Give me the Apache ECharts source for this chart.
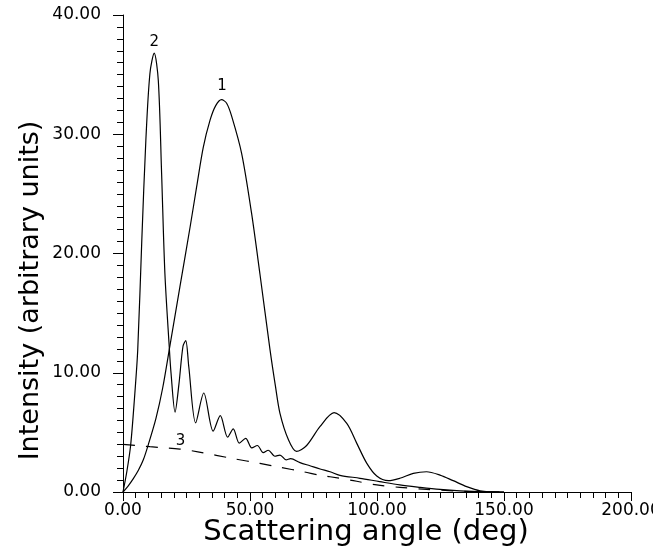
<!DOCTYPE html>
<html>
<head>
<meta charset="utf-8">
<script src="https://cdn.jsdelivr.net/npm/echarts@6/dist/echarts.min.js"></script>
<style>
  html, body { margin: 0; padding: 0; background: #fff; }
  #mychart { width: 653px; height: 550px; }
</style>
</head>
<body>
<div id="mychart"></div>
<script>
// curve 1 : broad peak near 39 deg
var angle1 = [0, 2, 4, 6, 8, 10, 13, 15.6, 18.5, 22.4, 26.4, 29, 31.6, 34.3, 36.5, 38.8, 40.8, 42.8, 46.7, 50.6, 53.9, 57.9, 60, 61.8, 65.1, 68.3, 72.3, 77.6, 83.1, 88.1, 92, 96, 99.9, 104.5, 109, 114.3, 119.5, 124.8, 130, 135.3, 140.6, 148, 150];
var inten1 = [0, 0.5, 1.1, 1.8, 2.7, 4.0, 6.2, 8.7, 12.3, 17.2, 22.2, 25.6, 28.9, 31.2, 32.4, 32.9, 32.6, 31.5, 28.4, 23.4, 18.3, 11.9, 8.9, 6.6, 4.4, 3.4, 3.9, 5.5, 6.65, 5.75, 4.1, 2.4, 1.34, 0.95, 1.15, 1.56, 1.7, 1.42, 0.95, 0.45, 0.1, 0, 0];

// curve 2 : sharp peak near 12 deg, then oscillations
var angle2 = [0, 1.5, 3, 4.5, 5.8, 7.4, 9, 10.6, 12.3, 13.9, 15.2, 16.5, 18.2, 18.9, 20.5, 22, 23.6, 24.7, 25.9, 28.6, 31.8, 35.5, 38.3, 41.2, 43.4, 45.8, 48.3, 50.7, 52.9, 55.2, 57.2, 59.8, 61.8, 64.2, 66, 69.7, 73.6, 77.6, 81.5, 85.4, 93.3, 101, 109, 117, 124.8, 132.7, 140.6, 150];
var inten2 = [0, 1.7, 3.9, 7.8, 11.9, 21.1, 29.5, 35.1, 36.8, 34.5, 26.7, 18.3, 12.2, 10, 6.7, 9, 12.2, 12.7, 10.5, 5.8, 8.3, 5.1, 6.4, 4.6, 5.3, 4.1, 4.5, 3.7, 3.9, 3.3, 3.5, 3.0, 3.1, 2.7, 2.8, 2.46, 2.2, 1.93, 1.7, 1.4, 1.15, 0.87, 0.59, 0.39, 0.22, 0.1, 0.03, 0];

// curve 3 : dashed background
var angle3 = [0, 10.6, 22.4, 30, 43.4, 53.9, 61.8, 71, 77.6, 81.5, 90.7, 99.9, 109, 119.5, 130, 140, 150];
var inten3 = [4.0, 3.8, 3.6, 3.35, 2.8, 2.4, 2.07, 1.7, 1.4, 1.28, 0.95, 0.59, 0.39, 0.22, 0.1, 0.03, 0];

var curveLabels = [
    {name: '1', coord: [39, 32.9]},
    {name: '2', coord: [12.3, 36.6]},
    {name: '3', coord: [22.6, 4.3]}
];

function pairs(xs, ys) {
    return xs.map(function (x, i) { return [x, ys[i]]; });
}

var dom = document.getElementById("mychart");
var myChart = echarts.init(dom);

var fontFam = 'DejaVu Sans';
var lineCol = '#000';

var option;
option = {
    animation: false,
    backgroundColor: '#fff',
    grid: {
        left: 123,
        right: 22,
        top: 15,
        bottom: 58,
        containLabel: false,
        outerBoundsMode: 'none'
    },
    xAxis: {
        type: 'value',
        min: 0,
        max: 200,
        interval: 50,
        name: 'Scattering angle (deg)',
        nameLocation: 'middle',
        nameGap: 26,
        nameMoveOverlap: false,
        nameTextStyle: {
            fontFamily: fontFam,
            fontSize: 29,
            color: '#000',
            padding: [0, 22, 0, 0]
        },
        axisLine: {lineStyle: {color: lineCol, width: 1}},
        axisTick: {length: 9, lineStyle: {color: lineCol}},
        minorTick: {show: true, splitNumber: 10, length: 6, lineStyle: {color: lineCol}},
        splitLine: {show: false},
        axisLabel: {
            margin: 10,
            fontFamily: fontFam,
            fontSize: 17,
            color: '#000',
            formatter: function (v) { return v.toFixed(2); }
        }
    },
    yAxis: {
        type: 'value',
        min: 0,
        max: 40,
        interval: 10,
        name: 'Intensity (arbitrary units)',
        nameLocation: 'middle',
        nameGap: 79,
        nameMoveOverlap: false,
        nameTextStyle: {
            fontFamily: fontFam,
            fontSize: 27,
            color: '#000',
            padding: [0, 74, 0, 0]
        },
        axisLine: {show: true, lineStyle: {color: lineCol, width: 1}},
        axisTick: {show: true, length: 10, lineStyle: {color: lineCol}},
        minorTick: {show: true, splitNumber: 10, length: 6, lineStyle: {color: lineCol}},
        splitLine: {show: false},
        axisLabel: {
            margin: 22,
            fontFamily: fontFam,
            fontSize: 17,
            color: '#000',
            formatter: function (v) { return v.toFixed(2); }
        }
    },
    series: [
        {
            name: 'curve 1',
            type: 'line',
            data: pairs(angle1, inten1),
            smooth: 0.3,
            showSymbol: false,
            symbol: 'none',
            lineStyle: {color: lineCol, width: 1.2},
            markPoint: {
                symbol: 'circle',
                symbolSize: 0,
                label: {show: true, position: 'top', distance: 6, color: '#000', fontFamily: fontFam, fontSize: 15, formatter: '{b}'},
                data: [curveLabels[0], curveLabels[1]]
            }
        },
        {
            name: 'curve 2',
            type: 'line',
            data: pairs(angle2, inten2),
            smooth: 0.3,
            showSymbol: false,
            symbol: 'none',
            lineStyle: {color: lineCol, width: 1.2}
        },
        {
            name: 'curve 3',
            type: 'line',
            data: pairs(angle3, inten3),
            smooth: 0.3,
            showSymbol: false,
            symbol: 'none',
            lineStyle: {color: lineCol, width: 1.2, type: [12, 11]},
            markPoint: {
                symbol: 'circle',
                symbolSize: 0,
                label: {show: true, position: 'inside', color: '#000', fontFamily: fontFam, fontSize: 15, formatter: '{b}'},
                data: [curveLabels[2]]
            }
        }
    ]
};

if (option && typeof option === 'object') {
    myChart.setOption(option);
}
</script>
</body>
</html>
